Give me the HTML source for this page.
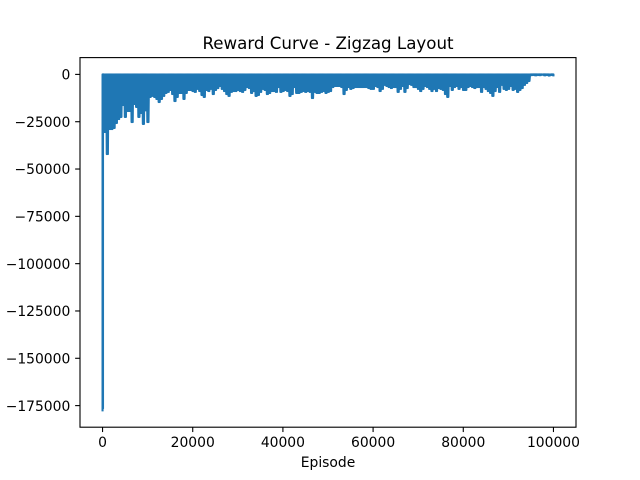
<!DOCTYPE html>
<html>
<head>
<meta charset="utf-8">
<title>Reward Curve - Zigzag Layout</title>
<style>
html,body{margin:0;padding:0;background:#fff;width:640px;height:480px;overflow:hidden}
svg{display:block}
text{font-family:"DejaVu Sans","Liberation Sans",sans-serif;fill:#000}
</style>
</head>
<body>
<svg id="chart" xmlns="http://www.w3.org/2000/svg" width="640" height="480" viewBox="0 0 640 480">
<rect x="0" y="0" width="640" height="480" fill="#fff"/>
<text x="328" y="49" font-size="16.67" text-anchor="middle">Reward Curve - Zigzag Layout</text>
<g id="series"></g>
<g id="axes"></g>
<text x="328" y="467" font-size="13.89" text-anchor="middle">Episode</text>
</svg>
<script>
const episodeStep = 500;
const earlyEpisodes = [0,100];
const earlyRewards = [-177500,-176500];
const peakReward = 0;
const lowRewards = [
-30400,-42100,-28900,-28900,-28300,-25700,-23600,-22500,-16200,-22500,-19300,-19300,-25200,-15600,-17200,-22500,-20400,-26200,-19000,-25200,
-11900,-11400,-11900,-13000,-14600,-13000,-11400,-9800,-9300,-8200,-10400,-14100,-11900,-9800,-9800,-13000,-9800,-8200,-8200,-8800,
-9300,-7700,-8800,-10900,-11900,-8200,-8800,-7700,-10400,-8200,-7200,-6100,-7700,-8800,-10400,-11400,-9300,-8800,-8800,-8200,
-8800,-9300,-8200,-6700,-7200,
-9800,-8800,-11400,-10900,-9300,-7700,-8200,-10400,-9800,-8800,-8800,-9300,-6700,-9300,-8800,-8200,-8800,-11400,-10400,-6700,
-9800,-9800,-9300,-8800,-9300,-8800,-9300,-12500,-9300,-9800,-9800,-9300,-8800,-9800,-9300,-8800,-6700,-6100,-6100,-6100,
-6700,-10400,-8200,-6700,-7700,
-7200,-6700,-6700,-6700,-6700,-6700,-6700,-7200,-7700,-7700,-6100,-6700,-8800,-7700,-5600,-6100,-6700,-7200,-6700,-6700,
-9300,-7700,-6100,-9300,-7200,-5100,-5600,-6700,-6700,-7700,-8800,-7700,-6100,-6700,-7700,-8800,-7700,-8800,-7200,-7700,
-8200,-10400,-11900,
-6100,-8200,-6700,-6100,-7700,-6700,-8200,-8200,-6700,-6100,-6700,-7200,-6700,-6700,-9300,-6700,-7700,-8800,-9800,-11400,
-8800,-6700,-9300,-5600,-7700,-8200,-7700,-6100,-8200,-7700,-9300,-8200,-7200,-5600,-4500,-3500,
-400,-300,-500,-300,-400,-200,-500,-300,-600,-300,-500
];
const xTickValues = [0,20000,40000,60000,80000,100000];
const yTickValues = [0,-25000,-50000,-75000,-100000,-125000,-150000,-175000];

const plotLeft = 80, plotRight = 576, plotTop = 57.6, plotBottom = 427.2;
const xDomainMin = -5000, xDomainMax = 105000;
const yDomainMin = -177535, yDomainMax = 0;
const yMargin = 16.8;
const lastEpisode = 100000;
const swingsPerStep = 4;
const svgNS = 'http://www.w3.org/2000/svg';

function xScale(v){
  return plotLeft + (v - xDomainMin) / (xDomainMax - xDomainMin) * (plotRight - plotLeft);
}
function yScale(v){
  const top = plotTop + yMargin, bottom = plotBottom - yMargin;
  return top + (yDomainMax - v) / (yDomainMax - yDomainMin) * (bottom - top);
}
function fmt(v){
  return (v < 0 ? '\u2212' : '') + Math.abs(v);
}

const seriesGroup = document.getElementById('series');
const axesGroup = document.getElementById('axes');

const pts = [];
earlyRewards.forEach(function(r, i){
  pts.push([earlyEpisodes[i], r]);
  pts.push([earlyEpisodes[i], peakReward]);
});
lowRewards.forEach(function(r, i){
  const ep = (i + 1) * episodeStep;
  for (let k = 0; k < swingsPerStep; k++) {
    const at = Math.min(lastEpisode, ep - episodeStep / 2 + (k + 0.5) * episodeStep / swingsPerStep);
    pts.push([at, k % 2 === 1 ? r : peakReward]);
  }
});
const line = document.createElementNS(svgNS, 'polyline');


line.setAttribute('points', pts.map(function(p){
  return xScale(p[0]).toFixed(2) + ',' + yScale(p[1]).toFixed(2);
}).join(' '));
line.setAttribute('fill', 'none');
line.setAttribute('stroke', '#1f77b4');
line.setAttribute('stroke-width', '2.08');
line.setAttribute('stroke-linejoin', 'round');
line.setAttribute('stroke-linecap', 'square');
seriesGroup.appendChild(line);

xTickValues.forEach(function(v){
  const x = xScale(v);
  const t = document.createElementNS(svgNS, 'line');
  
  
  t.setAttribute('x1', x);
  t.setAttribute('x2', x);
  t.setAttribute('y1', plotBottom);
  t.setAttribute('y2', plotBottom + 4.86);
  t.setAttribute('stroke', '#000');
  t.setAttribute('stroke-width', '1.11');
  axesGroup.appendChild(t);
  const l = document.createElementNS(svgNS, 'text');
  
  
  l.setAttribute('x', x);
  l.setAttribute('y', plotBottom + 20);
  l.setAttribute('font-size', '13.89');
  l.setAttribute('text-anchor', 'middle');
  l.textContent = fmt(v);
  axesGroup.appendChild(l);
});

yTickValues.forEach(function(v){
  const y = yScale(v);
  const t = document.createElementNS(svgNS, 'line');
  
  
  t.setAttribute('x1', plotLeft - 4.86);
  t.setAttribute('x2', plotLeft);
  t.setAttribute('y1', y);
  t.setAttribute('y2', y);
  t.setAttribute('stroke', '#000');
  t.setAttribute('stroke-width', '1.11');
  axesGroup.appendChild(t);
  const l = document.createElementNS(svgNS, 'text');
  
  
  l.setAttribute('x', plotLeft - 9.7);
  l.setAttribute('y', y + 5.2);
  l.setAttribute('font-size', '13.89');
  l.setAttribute('text-anchor', 'end');
  l.textContent = fmt(v);
  axesGroup.appendChild(l);
});

const frame = document.createElementNS(svgNS, 'rect');


frame.setAttribute('x', plotLeft);
frame.setAttribute('y', plotTop);
frame.setAttribute('width', plotRight - plotLeft);
frame.setAttribute('height', plotBottom - plotTop);
frame.setAttribute('fill', 'none');
frame.setAttribute('stroke', '#000');
frame.setAttribute('stroke-width', '1.11');
axesGroup.appendChild(frame);
</script>
</body>
</html>
